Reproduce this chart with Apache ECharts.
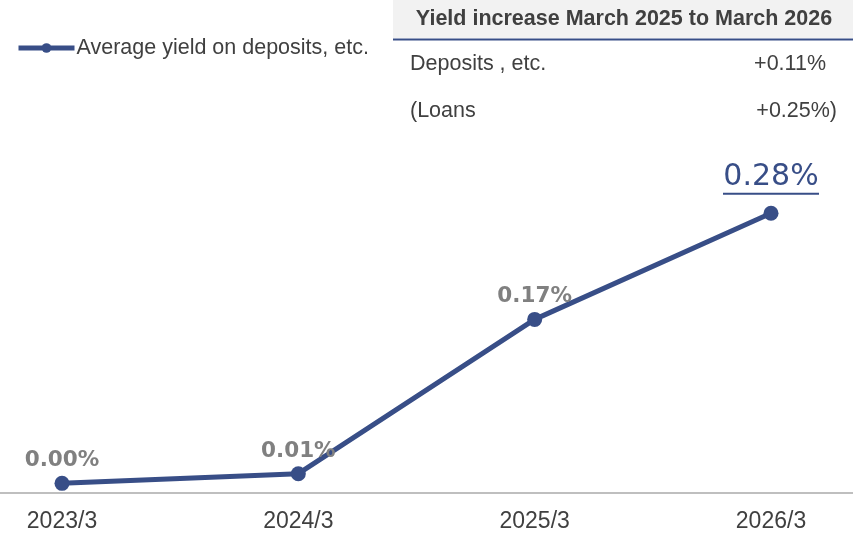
<!DOCTYPE html>
<html>
<head>
<meta charset="utf-8">
<script src="https://cdn.jsdelivr.net/npm/echarts@6/dist/echarts.min.js"></script>
<style>
  html, body { margin: 0; padding: 0; background: #fff; }
  #chart { width: 853px; height: 534px; }
</style>
</head>
<body>
<div id="chart"></div>
<script>
// Fiscal period categories and average yield (%)
const categories = ['2023/3', '2024/3', '2025/3', '2026/3'];
const yieldValues = [0.00, 0.01, 0.17, 0.28];
const seriesName = 'Average yield on deposits, etc.';

// Summary table in the top-right corner
const tableTitle = 'Yield increase March 2025 to March 2026';
const tableLabels = ['Deposits , etc.', '(Loans'];
const tableValues = ['+0.11%', '+0.25%)'];

const BLUE = '#384e87';
const TEXT = '#404040';
const FONT = '"Liberation Sans", Arial, sans-serif';
const LABEL_FONT = '"DejaVu Sans", sans-serif';

const lastIdx = yieldValues.length - 1;

const seriesData = yieldValues.map((v, i) => {
  const item = { value: v };
  if (i === lastIdx) {
    item.label = {
      distance: 11,
      formatter: (p) => '{v|' + p.value.toFixed(2) + '%}\n{u|}',
      rich: {
        v: { fontFamily: LABEL_FONT, fontSize: 30, fontWeight: 'normal', color: BLUE, lineHeight: 32, align: 'center' },
        u: { width: 96, height: 2, backgroundColor: BLUE, align: 'center' }
      }
    };
  }
  return item;
});

const graphics = [
  // full-width baseline under the plot
  { type: 'line', shape: { x1: 0, y1: 493, x2: 853, y2: 493 }, style: { stroke: '#bfbfbf', lineWidth: 2 }, silent: true, z: 0 },
  // summary table
  { type: 'rect', shape: { x: 393, y: 0, width: 460, height: 38 }, style: { fill: '#f2f2f2' }, silent: true },
  { type: 'line', shape: { x1: 393, y1: 39.5, x2: 853, y2: 39.5 }, style: { stroke: BLUE, lineWidth: 2 }, silent: true },
  { type: 'text', x: 624, y: 19, style: { text: tableTitle, font: 'bold 21.5px ' + FONT, fill: TEXT, textAlign: 'center', textVerticalAlign: 'middle' } }
];
tableLabels.forEach((label, i) => {
  const y = 64 + i * 47;
  graphics.push({ type: 'text', x: 410, y: y, style: { text: label, font: '21.5px ' + FONT, fill: TEXT, textAlign: 'left', textVerticalAlign: 'middle' } });
  graphics.push({ type: 'text', x: i === 0 ? 826 : 837, y: y, style: { text: tableValues[i], font: '21.5px ' + FONT, fill: TEXT, textAlign: 'right', textVerticalAlign: 'middle' } });
});

const chart = echarts.init(document.getElementById('chart'), null, { renderer: 'canvas' });
chart.setOption({
  animation: false,
  backgroundColor: '#ffffff',
  legend: {
    left: 11, top: 32,
    itemWidth: 56, itemHeight: 12,
    itemGap: 0,
    lineStyle: { width: 5, color: BLUE },
    itemStyle: { color: BLUE },
    textStyle: { fontFamily: FONT, fontSize: 21.5, color: TEXT, padding: [0, 0, 0, -3] },
    data: [seriesName]
  },
  grid: { left: 62, right: 82, top: 194, bottom: 41 },
  xAxis: {
    type: 'category',
    data: categories,
    boundaryGap: false,
    axisLine: { show: false },
    axisTick: { show: false },
    axisLabel: { fontFamily: FONT, fontSize: 23, color: TEXT, margin: 17 }
  },
  yAxis: {
    type: 'value',
    min: -0.01, max: 0.30,
    show: false,
    splitLine: { show: false }
  },
  graphic: graphics,
  series: [{
    name: seriesName,
    type: 'line',
    data: seriesData,
    color: BLUE,
    lineStyle: { color: BLUE, width: 5 },
    itemStyle: { color: BLUE },
    symbol: 'circle',
    symbolSize: 15,
    z: 3,
    label: {
      show: true,
      position: 'top',
      distance: 4,
      fontFamily: LABEL_FONT,
      fontSize: 21.5,
      fontWeight: 'bold',
      color: '#808080',
      formatter: (p) => p.value.toFixed(2) + '%'
    }
  }]
});
</script>
</body>
</html>
